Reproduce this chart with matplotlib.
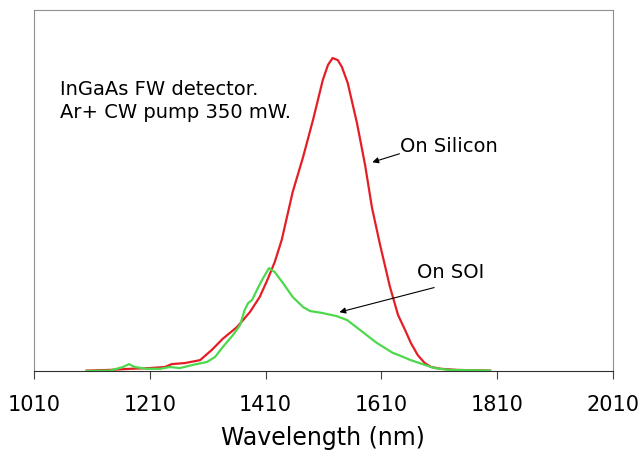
import matplotlib
matplotlib.use("Agg")
from matplotlib import pyplot as plt

# red: on silicon
wl_si = [1101, 1141, 1176, 1210, 1236, 1248, 1271, 1297, 1317, 1336, 1361, 1383,
         1400, 1414, 1426, 1438, 1457, 1475, 1492, 1509, 1518, 1526, 1535, 1542,
         1552, 1568, 1582, 1594, 1608, 1625, 1639, 1651, 1661, 1673, 1685, 1696,
         1713, 1741, 1798]
pl_si = [0.001, 0.003, 0.006, 0.008, 0.011, 0.019, 0.022, 0.030, 0.058, 0.089, 0.122, 0.163,
         0.205, 0.255, 0.302, 0.363, 0.496, 0.593, 0.695, 0.806, 0.848, 0.867, 0.861, 0.842,
         0.798, 0.687, 0.571, 0.452, 0.349, 0.233, 0.155, 0.114, 0.078, 0.044, 0.022, 0.011,
         0.006, 0.003, 0.001]

# green: on SOI
wl_soi = [1101, 1141, 1164, 1174, 1184, 1205, 1228, 1245, 1262, 1285, 1309, 1323,
          1336, 1354, 1366, 1374, 1380, 1387, 1395, 1404, 1416, 1426, 1440, 1457,
          1475, 1487, 1507, 1533, 1551, 1573, 1602, 1630, 1640, 1661, 1685, 1702, 1728, 1798]
pl_soi = [0.000, 0.001, 0.011, 0.019, 0.011, 0.006, 0.006, 0.011, 0.008, 0.017, 0.025, 0.039,
          0.066, 0.100, 0.127, 0.169, 0.188, 0.197, 0.224, 0.252, 0.285, 0.274, 0.244, 0.205,
          0.177, 0.166, 0.161, 0.152, 0.141, 0.114, 0.078, 0.050, 0.044, 0.030, 0.017, 0.008,
          0.003, 0.001]

xticks = [1010, 1210, 1410, 1610, 1810, 2010]

fig = plt.figure(figsize=(6.41, 4.5), dpi=100)
ax = fig.add_axes([0.053, 0.1756, 0.903, 0.8022])

ax.plot(wl_si, pl_si, color='#e41e26', lw=1.6, solid_joinstyle='round')
ax.plot(wl_soi, pl_soi, color='#4cd94c', lw=1.6, solid_joinstyle='round')

ax.set_xlim(1010, 2010)
ax.set_ylim(0, 1)
ax.set_xticks(xticks)
ax.set_yticks([])
ax.tick_params(axis='x', direction='out', length=6, color='#404040',
               labelsize=15, pad=11)
for s in ['left', 'top', 'right']:
    ax.spines[s].set_color('#909090')
ax.spines['bottom'].set_color('#303030')
ax.set_xlabel('Wavelength (nm)', fontsize=17, labelpad=8)

ax.text(1055, 0.765, 'InGaAs FW detector.', fontsize=14, va='baseline')
ax.text(1055, 0.701, 'Ar+ CW pump 350 mW.', fontsize=14, va='baseline')

ax.text(1642, 0.607, 'On Silicon', fontsize=14, va='baseline')
ax.annotate('', xy=(1590, 0.576), xytext=(1646, 0.604),
            arrowprops=dict(arrowstyle='-|>', color='black', lw=0.8, mutation_scale=9))
ax.text(1671, 0.258, 'On SOI', fontsize=14, va='baseline')
ax.annotate('', xy=(1533, 0.161), xytext=(1706, 0.233),
            arrowprops=dict(arrowstyle='-|>', color='black', lw=0.8, mutation_scale=9))

fig.savefig('out.png', dpi=100)
